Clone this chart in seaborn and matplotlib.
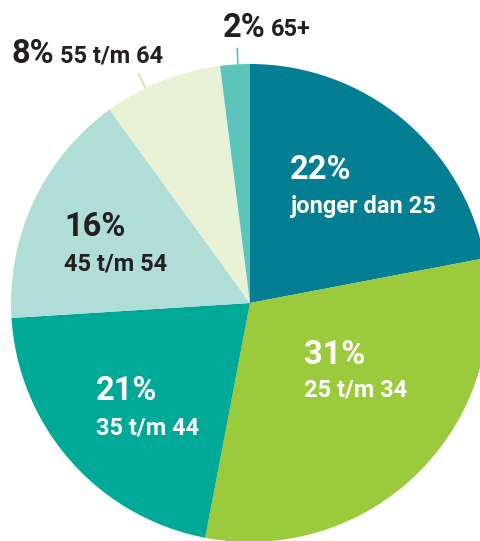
import matplotlib
matplotlib.use("Agg")
import matplotlib.pyplot as plt
import seaborn as sns
import numpy as np

# data
groups = ["jonger dan 25", "25 t/m 34", "35 t/m 44", "45 t/m 54", "55 t/m 64", "65+"]
shares = [22, 31, 21, 16, 8, 2]
colors = ["#037e93", "#9bca3c", "#00a898", "#b0ddd8", "#e7f2d6", "#5cc4ba"]
text_colors = ["white", "white", "white", "#231f20", "#231f20", "#231f20"]
leader_colors = {4: "#cfe3a3", 5: "#5cc4ba"}

sns.set_theme(style="white")
plt.rcParams["font.family"] = ["Roboto", "DejaVu Sans"]

W, H = 481, 541
fig = plt.figure(figsize=(W / 100, H / 100), dpi=100)
ax = fig.add_axes([0, 0, 1, 1])

cx, cy, r = 250, H - 303, 239
wedges, _ = ax.pie(shares, colors=colors, startangle=90, counterclock=False,
                   center=(cx, cy), radius=r, frame=True,
                   wedgeprops=dict(linewidth=0))
ax.set_xlim(0, W)
ax.set_ylim(0, H)
ax.set_axis_off()

# label layout (pixel coords from the top-left), inside labels stacked
inside = {0: (290, 170, 206), 1: (304, 355, 390), 2: (96, 391, 428), 3: (64, 227, 264)}
for i, (x, y1, y2) in inside.items():
    ax.text(x, H - y1, f"{shares[i]}%", fontsize=23.5, fontweight="bold",
            color=text_colors[i], ha="left", va="center")
    ax.text(x, H - y2, groups[i], fontsize=17, fontweight="bold",
            color=text_colors[i], ha="left", va="center")

# outside labels with short leader lines
outside = {4: (12, 54, 0.65), 5: (223, 28, 0.4)}
for i, (x, y, frac) in outside.items():
    w = wedges[i]
    ang = np.deg2rad(w.theta1 + frac * (w.theta2 - w.theta1))
    rr = np.array([r, r + 16])
    ax.plot(cx + rr * np.cos(ang), cy + rr * np.sin(ang), color=leader_colors[i], lw=1.2)
    t = ax.text(x, H - y, f"{shares[i]}%", fontsize=23.5, fontweight="bold",
                color=text_colors[i], ha="left", va="center")
    fig.canvas.draw()
    bb = t.get_window_extent().transformed(ax.transData.inverted())
    ax.text(bb.x1 + 5, bb.y0 + 3, groups[i], fontsize=17, fontweight="bold",
            color=text_colors[i], ha="left", va="bottom")

fig.savefig("out.png", dpi=100)
